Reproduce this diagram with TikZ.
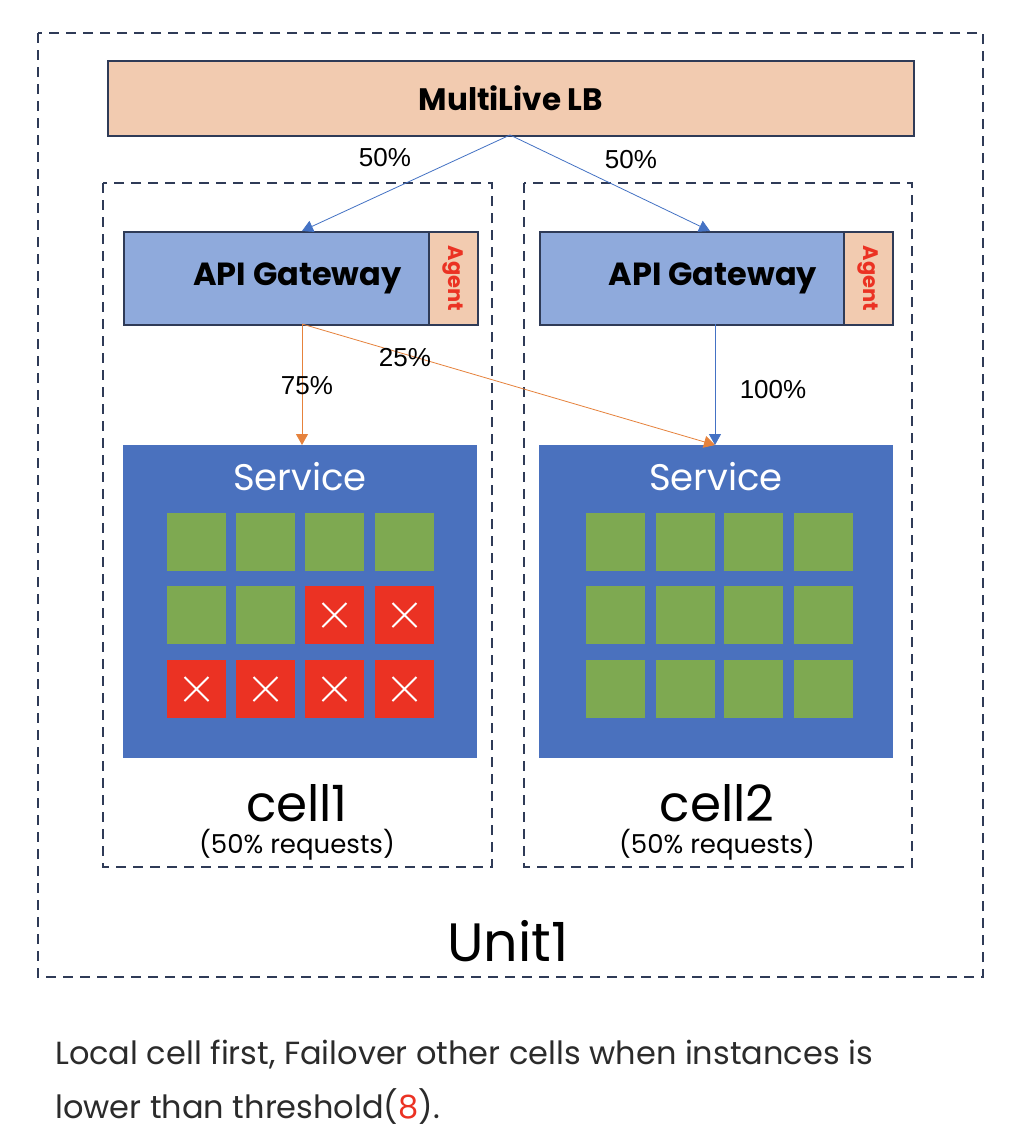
\documentclass[tikz,border=0pt]{standalone}
\usepackage{fontspec}
\setmainfont{Poppins}
\newfontfamily\pctfont{Liberation Sans}
\usetikzlibrary{arrows.meta}
\definecolor{navy}{HTML}{2F3B57}
\definecolor{peach}{HTML}{F2CBB0}
\definecolor{gwblue}{HTML}{8FAADC}
\definecolor{svcblue}{HTML}{4A71BE}
\definecolor{okgreen}{HTML}{7EA951}
\definecolor{badred}{HTML}{EB3223}
\definecolor{lineblue}{HTML}{4472C4}
\definecolor{lineorange}{HTML}{E6823C}
\definecolor{txtdark}{HTML}{2B2B2B}
\tikzset{
  dashbox/.style={draw=navy, line width=1.8pt, dash pattern=on 10pt off 7pt},
  solidbox/.style={draw=navy, line width=1.8pt},
  inst/.style={minimum width=59pt, minimum height=58pt, inner sep=0pt, outer sep=0pt},
  okinst/.style={inst, fill=okgreen},
  badinst/.style={inst, fill=badred},
  bluearrow/.style={draw=lineblue, line width=0.8pt, -{Triangle[length=11pt,width=12pt]}},
  orangearrow/.style={draw=lineorange, line width=0.8pt, -{Triangle[length=11pt,width=12pt]}},
  pct/.style={font=\pctfont\fontsize{26}{30}\selectfont, text=black, inner sep=0pt},
}
\begin{document}
\begin{tikzpicture}[x=1pt,y=-1pt]
\useasboundingbox[fill=white] (0,0) rectangle (1012,1144);
% outer unit
\draw[dashbox] (38,33) rectangle (983,977);
% cells
\draw[dashbox] (103,183) rectangle (492,867);
\draw[dashbox] (524,183) rectangle (912,867);
% LB
\node[solidbox, fill=peach, minimum width=806pt, minimum height=75pt, inner sep=0pt, anchor=north west,
  font=\fontsize{31}{36}\selectfont\bfseries] (lb) at (107,60) {MultiLive LB};
% API gateways
\node[solidbox, fill=gwblue, minimum width=305pt, minimum height=93pt, inner sep=0pt, anchor=north west,
  font=\fontsize{32}{37}\selectfont\bfseries] (gw1) at (123,231) {\hspace*{42pt}API Gateway};
\node[solidbox, fill=peach, minimum width=49pt, minimum height=93pt, inner sep=0pt, anchor=north west] (ag1) at (428,231) {};
\node[rotate=-90, text=badred, font=\fontsize{21}{24}\selectfont\bfseries] (ag1t) at (ag1.center) {Agent};
\node[solidbox, fill=gwblue, minimum width=304pt, minimum height=93pt, inner sep=0pt, anchor=north west,
  font=\fontsize{32}{37}\selectfont\bfseries] (gw2) at (539,231) {\hspace*{42pt}API Gateway};
\node[solidbox, fill=peach, minimum width=49pt, minimum height=93pt, inner sep=0pt, anchor=north west] (ag2) at (843,231) {};
\node[rotate=-90, text=badred, font=\fontsize{21}{24}\selectfont\bfseries] (ag2t) at (ag2.center) {Agent};
% services
\node[fill=svcblue, minimum width=354pt, minimum height=313pt, inner sep=0pt, anchor=north west] (svc1) at (123,445) {};
\node[fill=svcblue, minimum width=354pt, minimum height=313pt, inner sep=0pt, anchor=north west] (svc2) at (539,445) {};
\node[text=white, font=\fontsize{37}{42}\selectfont] (svc1t) at (300,477) {Service};
\node[text=white, font=\fontsize{37}{42}\selectfont] (svc2t) at (716,477) {Service};
% instances cell1
\foreach \x [count=\i] in {196.5,265.5,334.5,404.5}{
  \node[okinst] (a1\i) at (\x,542) {};
}
\node[okinst] (a21) at (196.5,615) {};
\node[okinst] (a22) at (265.5,615) {};
\foreach \x [count=\i from 3] in {334.5,404.5}{
  \node[badinst] (a2\i) at (\x,615) {};
  \draw[white, line width=2pt] ([shift={(-12,-12)}]a2\i.center) -- ([shift={(12,12)}]a2\i.center)
    ([shift={(-12,12)}]a2\i.center) -- ([shift={(12,-12)}]a2\i.center);
}
\foreach \x [count=\i] in {196.5,265.5,334.5,404.5}{
  \node[badinst] (a3\i) at (\x,689) {};
  \draw[white, line width=2pt] ([shift={(-12,-12)}]a3\i.center) -- ([shift={(12,12)}]a3\i.center)
    ([shift={(-12,12)}]a3\i.center) -- ([shift={(12,-12)}]a3\i.center);
}
% instances cell2
\foreach \y [count=\j] in {542,615,689}{
  \foreach \x [count=\i] in {615.5,685.5,753.5,823.5}{
    \node[okinst] (b\j\i) at (\x,\y) {};
  }
}
% labels
\node[font=\fontsize{50}{56}\selectfont, text=black] (c1) at (297,803) {cell1};
\node[font=\fontsize{26}{30}\selectfont, text=black] (c1r) at (297,845) {(50\% requests)};
\node[font=\fontsize{50}{56}\selectfont, text=black] (c2) at (717,803) {cell2};
\node[font=\fontsize{26}{30}\selectfont, text=black] (c2r) at (717,845) {(50\% requests)};
\node[font=\fontsize{54}{60}\selectfont, text=black] (u1) at (508,941) {Unit1};
% connectors
\coordinate (lbb) at (510,135);
\coordinate (gw1t) at (302,231);
\coordinate (gw2t) at (710,231);
\coordinate (gw1b) at (302,324);
\coordinate (gw2b) at (715,324);
\coordinate (s1t) at (302,445);
\coordinate (s2t) at (715,445);
\draw[bluearrow] (lbb) -- (gw1t);
\draw[bluearrow] (lbb) -- (gw2t);
\draw[orangearrow] (gw1b) -- (s1t);
\draw[orangearrow] (gw1b) -- (s2t);
\draw[bluearrow] (gw2b) -- (s2t);
\node[pct] (p1) at (385,158) {50\%};
\node[pct] (p2) at (631,160) {50\%};
\node[pct] (p3) at (307,386) {75\%};
\node[pct] (p4) at (405,358) {25\%};
\node[pct] (p5) at (773,390) {100\%};
% caption
\node[anchor=west, text=txtdark, font=\fontsize{32}{38}\selectfont, inner sep=0pt] (cap1) at (55,1055) {Local cell first, Failover other cells when instances is};
\node[anchor=west, text=txtdark, font=\fontsize{32}{38}\selectfont, inner sep=0pt] (cap2) at (55,1107) {lower than threshold(\textcolor{badred}{8}).};
\end{tikzpicture}
\end{document}
